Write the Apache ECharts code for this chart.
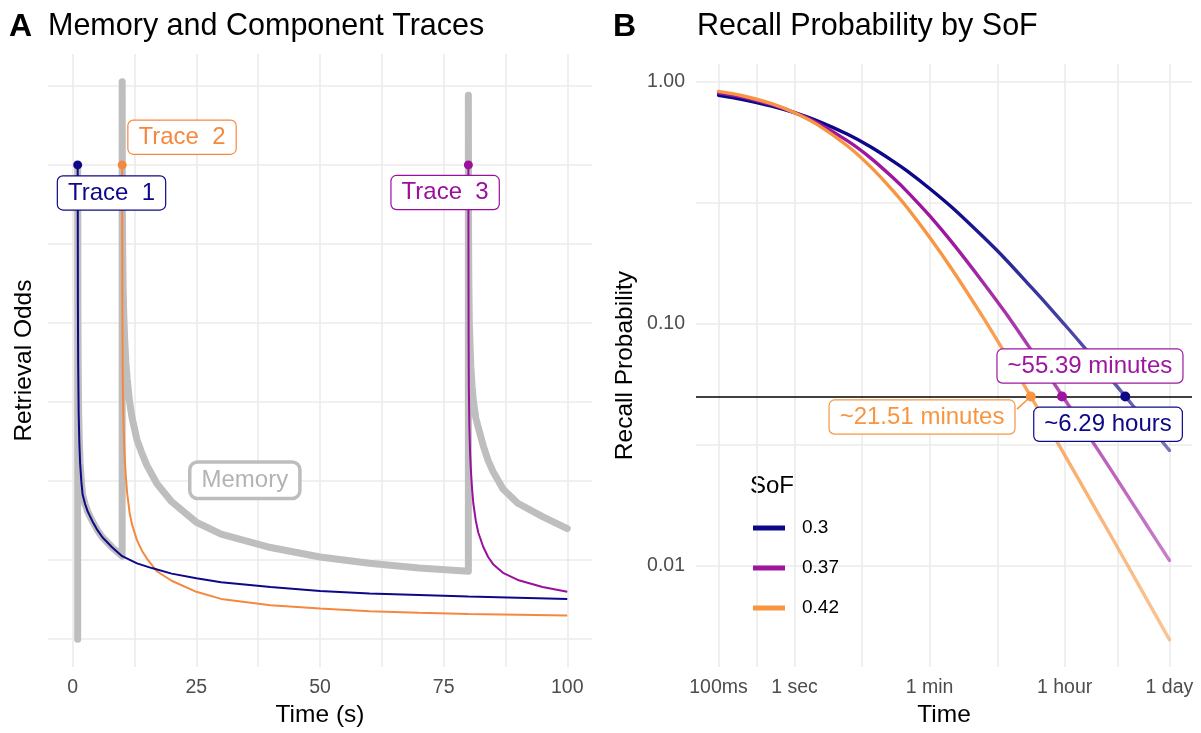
<!DOCTYPE html>
<html>
<head>
<meta charset="utf-8">
<title>Memory and Component Traces / Recall Probability by SoF</title>
<script src="https://cdn.jsdelivr.net/npm/echarts@6.0.0/dist/echarts.min.js"></script>
<style>
  html, body { margin: 0; padding: 0; background: #fff; }
  #chart { width: 1201px; height: 733px; }
</style>
</head>
<body>
<div id="chart"></div>
<script>
// ---- panel A: retrieval odds of memory and its traces (time in s) ----
const trace1Time = [1, 1.02, 1.05, 1.1, 1.2, 1.35, 1.5, 1.75, 2, 2.5, 3, 4, 5, 6, 8, 10, 13, 16, 20, 25, 30, 40, 50, 60, 70, 80, 90, 100]
const trace1Odds = [6, 5.47, 4.2, 3.49, 2.86, 2.46, 2.22, 1.99, 1.83, 1.71, 1.62, 1.49, 1.38, 1.29, 1.16, 1.05, 0.96, 0.9, 0.83, 0.77, 0.72, 0.66, 0.61, 0.58, 0.56, 0.54, 0.525, 0.51]

const trace2Time = [10, 10.02, 10.05, 10.1, 10.2, 10.35, 10.5, 10.75, 11, 11.5, 12, 13, 14, 15, 17, 20, 25, 30, 40, 50, 60, 70, 80, 90, 100]
const trace2Odds = [6, 5.0, 4.0, 3.4, 2.9, 2.55, 2.3, 2.05, 1.85, 1.6, 1.45, 1.25, 1.12, 1.02, 0.86, 0.74, 0.6, 0.51, 0.43, 0.39, 0.355, 0.335, 0.32, 0.31, 0.3]

const trace3Time = [80, 80.02, 80.05, 80.1, 80.2, 80.35, 80.5, 80.75, 81, 81.5, 82, 83, 84, 85, 87, 90, 95, 100]
const trace3Odds = [6, 4.9, 3.8, 3.2, 2.7, 2.35, 2.15, 1.9, 1.72, 1.5, 1.35, 1.17, 1.04, 0.95, 0.84, 0.75, 0.66, 0.6]

const memoryTime = [1, 1, 1.02, 1.05, 1.1, 1.2, 1.35, 1.5, 1.75, 2, 2.5, 3, 4, 5, 6, 8, 10,
  10, 10.02, 10.05, 10.1, 10.2, 10.35, 10.5, 10.75, 11, 11.5, 12, 13, 14, 15, 17, 20, 25, 30, 40, 50, 60, 70, 80,
  80, 80.02, 80.05, 80.1, 80.2, 80.35, 80.5, 80.75, 81, 81.5, 82, 83, 84, 85, 87, 90, 95, 100]
const memoryOdds = [0, 6, 5.47, 4.2, 3.49, 2.86, 2.46, 2.22, 1.99, 1.83, 1.71, 1.62, 1.49, 1.38, 1.29, 1.16, 1.05,
  7.05, 6.2, 5.4, 4.9, 4.4, 4.05, 3.8, 3.5, 3.3, 3.0, 2.8, 2.52, 2.35, 2.2, 1.97, 1.74, 1.48, 1.33, 1.16, 1.04, 0.96, 0.9, 0.86,
  6.88, 5.9, 5.0, 4.5, 4.0, 3.7, 3.45, 3.2, 3.02, 2.8, 2.68, 2.45, 2.26, 2.12, 1.9, 1.72, 1.55, 1.4]

const traceNames = ['Trace  1', 'Trace  2', 'Trace  3']
const traceOnsets = [1, 10, 80]
const traceCap = 6

// ---- panel B: recall probability by speed of forgetting ----
const sofLevels = ['0.3', '0.37', '0.42']
const recallTime = [0.1, 0.2, 0.5, 1, 2, 5, 10, 20, 30, 60, 120, 300, 600, 1200, 1800, 3600, 7200, 14400, 28800, 43200, 86400]
const recallSoF030 = [0.882, 0.849, 0.796, 0.747, 0.691, 0.608, 0.54, 0.47, 0.43, 0.363, 0.302, 0.23, 0.185, 0.146, 0.127, 0.0993, 0.0771, 0.0594, 0.0457, 0.0391, 0.0299]
const recallSoF037 = [0.902, 0.868, 0.806, 0.747, 0.677, 0.571, 0.486, 0.401, 0.354, 0.28, 0.216, 0.149, 0.111, 0.081, 0.0673, 0.0487, 0.035, 0.0251, 0.0179, 0.0147, 0.0105]
const recallSoF042 = [0.915, 0.88, 0.814, 0.747, 0.667, 0.544, 0.447, 0.354, 0.304, 0.228, 0.167, 0.107, 0.0749, 0.052, 0.0418, 0.0287, 0.0196, 0.0134, 0.00911, 0.00726, 0.00493]

const threshold = 0.05
const crossSeconds = [22644, 3323.4, 1290.6]
const crossLabels = ['~6.29 hours', '~55.39 minutes', '~21.51 minutes']

const timeTicks = [0.1, 1, 60, 3600, 86400]
const timeTickLabels = ['100ms', '1 sec', '1 min', '1 hour', '1 day']
const probTicks = [1, 0.1, 0.01]

// ---- styling ----
const FONT = '"Liberation Sans", Arial, Helvetica, sans-serif'
const GRID_COLOR = '#ebebeb'
const TEXT_GREY = '#4d4d4d'
const colorsA = ['#0d0887', '#f5883f', '#9a0f9c']
const colorsB = ['#0d0887', '#9c179e', '#f89540']
const fadedB = ['rgba(13,8,135,0.55)', 'rgba(156,23,158,0.55)', 'rgba(248,149,64,0.55)']

const pairs = (xs, ys) => xs.map((x, i) => [x, ys[i]])
const logPairs = (xs, ys) => xs.map((x, i) => [Math.log10(x), Math.log10(ys[i])])
const mids = (arr) => arr.slice(1).map((v, i) => (v + arr[i]) / 2)

const gridLines = (xs, ys) => ({
  silent: true,
  z: 1,
  symbol: ['none', 'none'],
  label: { show: false },
  lineStyle: { color: GRID_COLOR, width: 1.6, type: 'solid' },
  data: [...xs.map((v) => ({ xAxis: v })), ...ys.map((v) => ({ yAxis: v }))],
})

const logTimeTicks = timeTicks.map((t) => Math.log10(t))
const logProbTicks = probTicks.map((p) => Math.log10(p))

const gridAX = [0, 12.5, 25, 37.5, 50, 62.5, 75, 87.5, 100]
const gridAY = [0, 1, 2, 3, 4, 5, 6, 7]
const gridBX = [...logTimeTicks, ...mids(logTimeTicks)]
const gridBY = [...logProbTicks, ...mids(logProbTicks)]

const chart = echarts.init(document.getElementById('chart'))

const fadeGradient = (i) =>
  new echarts.graphic.LinearGradient(0, 0, 1, 0, [
    { offset: 0, color: colorsB[i] },
    { offset: 0.5, color: colorsB[i] },
    { offset: 1, color: fadedB[i] },
  ])

const recallSeries = [recallSoF030, recallSoF037, recallSoF042].map((vals, i) => ({
  name: sofLevels[i],
  type: 'line',
  xAxisIndex: 1,
  yAxisIndex: 1,
  data: logPairs(recallTime, vals),
  smooth: 0.3,
  showSymbol: false,
  z: 3,
  itemStyle: { color: colorsB[i] },
  lineStyle: { width: 3.4, color: fadeGradient(i), cap: 'round' },
}))

const axisName = { fontSize: 24.5, color: '#000', fontFamily: FONT }
const tickLabel = { color: TEXT_GREY, fontSize: 19.5, fontFamily: FONT, margin: 11 }
const hidden = { show: false }

const labelBox = {
  show: true,
  position: 'inside',
  fontSize: 24,
  fontFamily: FONT,
  backgroundColor: '#fff',
  borderWidth: 1.2,
  borderRadius: 5,
  padding: [5, 10, 4, 10],
}
// invisible anchor for text boxes; opacity 1 so the label is not faded
const anchorStyle = { color: 'rgba(0,0,0,0)', opacity: 1 }

const option = {
  animation: false,
  backgroundColor: '#fff',
  textStyle: { fontFamily: FONT },
  graphic: [
    { type: 'text', x: 9, y: 27, style: { text: 'A', font: 'bold 32px ' + FONT, fill: '#000', verticalAlign: 'middle' } },
    { type: 'text', x: 48, y: 27, style: { text: 'Memory and Component Traces', font: '30.5px ' + FONT, fill: '#000', verticalAlign: 'middle' } },
    { type: 'text', x: 613, y: 27, style: { text: 'B', font: 'bold 32px ' + FONT, fill: '#000', verticalAlign: 'middle' } },
    { type: 'text', x: 697, y: 27, style: { text: 'Recall Probability by SoF', font: '30.5px ' + FONT, fill: '#000', verticalAlign: 'middle' } },
    { type: 'text', x: 750, y: 486, style: { text: 'SoF', font: '24px ' + FONT, fill: '#000', verticalAlign: 'middle' } },
  ],
  legend: {
    data: sofLevels.map((s, i) => ({ name: s, itemStyle: { color: colorsB[i] } })),
    orient: 'vertical',
    left: 753,
    top: 518,
    padding: 0,
    icon: 'rect',
    itemWidth: 32,
    itemHeight: 5,
    itemGap: 20,
    selectedMode: false,
    textStyle: { fontSize: 19, lineHeight: 20, color: '#000', fontFamily: FONT, padding: [0, 0, 0, 12] },
  },
  grid: [
    { left: 48, top: 54, width: 544, height: 620 },
    { left: 696, top: 64, width: 496, height: 610 },
  ],
  xAxis: [
    {
      gridIndex: 0,
      type: 'value',
      min: -5,
      max: 105,
      axisLine: hidden,
      axisTick: hidden,
      splitLine: hidden,
      axisLabel: { ...tickLabel, customValues: [0, 25, 50, 75, 100] },
      name: 'Time (s)',
      nameLocation: 'middle',
      nameGap: 34,
      nameTextStyle: axisName,
    },
    {
      gridIndex: 1,
      type: 'value',
      min: -1.2968,
      max: 5.2333,
      axisLine: hidden,
      axisTick: hidden,
      splitLine: hidden,
      axisLabel: {
        ...tickLabel,
        customValues: logTimeTicks,
        formatter: (v) => {
          let best = 0
          logTimeTicks.forEach((t, i) => {
            if (Math.abs(t - v) < Math.abs(logTimeTicks[best] - v)) best = i
          })
          return timeTickLabels[best]
        },
      },
      name: 'Time',
      nameLocation: 'middle',
      nameGap: 34,
      nameTextStyle: axisName,
    },
  ],
  yAxis: [
    {
      gridIndex: 0,
      type: 'value',
      min: -0.3525,
      max: 7.4025,
      axisLine: hidden,
      axisTick: hidden,
      splitLine: hidden,
      axisLabel: hidden,
      name: 'Retrieval Odds',
      nameLocation: 'middle',
      nameRotate: 90,
      nameGap: 11,
      nameTextStyle: axisName,
    },
    {
      gridIndex: 1,
      type: 'value',
      min: -2.4205,
      max: 0.0748,
      axisLine: hidden,
      axisTick: hidden,
      splitLine: hidden,
      axisLabel: {
        ...tickLabel,
        customValues: logProbTicks,
        formatter: (v) => Math.pow(10, v).toFixed(2),
      },
      name: 'Recall Probability',
      nameLocation: 'middle',
      nameRotate: 90,
      nameGap: 58,
      nameTextStyle: axisName,
    },
  ],
  series: [
    // panel A
    {
      type: 'line',
      xAxisIndex: 0,
      yAxisIndex: 0,
      data: [[0, 0]],
      showSymbol: false,
      lineStyle: { opacity: 0 },
      silent: true,
      markLine: gridLines(gridAX, gridAY),
    },
    {
      name: 'Memory',
      type: 'line',
      xAxisIndex: 0,
      yAxisIndex: 0,
      data: pairs(memoryTime, memoryOdds),
      showSymbol: false,
      z: 2,
      lineStyle: { color: '#bebebe', width: 7, cap: 'round', join: 'round' },
    },
    ...[
      [trace2Time, trace2Odds, 1],
      [trace1Time, trace1Odds, 0],
      [trace3Time, trace3Odds, 2],
    ].map(([t, v, i]) => ({
      name: traceNames[i],
      type: 'line',
      xAxisIndex: 0,
      yAxisIndex: 0,
      data: pairs(t, v),
      showSymbol: false,
      z: 3,
      lineStyle: { color: colorsA[i], width: 2 },
    })),
    {
      type: 'scatter',
      xAxisIndex: 0,
      yAxisIndex: 0,
      z: 4,
      symbolSize: 9,
      data: traceOnsets.map((t, i) => ({ value: [t, traceCap], itemStyle: { color: colorsA[i], opacity: 1 } })),
    },
    {
      type: 'scatter',
      xAxisIndex: 0,
      yAxisIndex: 0,
      z: 5,
      symbolSize: 1,
      itemStyle: anchorStyle,
      data: [
        { value: [7.84, 5.645], label: { ...labelBox, formatter: traceNames[0], color: colorsA[0], borderColor: colorsA[0] } },
        { value: [22.1, 6.35], label: { ...labelBox, formatter: traceNames[1], color: colorsA[1], borderColor: colorsA[1] } },
        { value: [75.3, 5.65], label: { ...labelBox, formatter: traceNames[2], color: colorsA[2], borderColor: colorsA[2] } },
        {
          value: [34.8, 2.01],
          label: { ...labelBox, formatter: 'Memory', color: '#b3b3b3', borderColor: '#bdbdbd', borderWidth: 3.5, borderRadius: 6 },
        },
      ],
    },
    // panel B
    {
      type: 'line',
      xAxisIndex: 1,
      yAxisIndex: 1,
      data: [[0, 0]],
      showSymbol: false,
      lineStyle: { opacity: 0 },
      silent: true,
      markLine: gridLines(gridBX, gridBY),
    },
    ...recallSeries,
    {
      type: 'line',
      xAxisIndex: 1,
      yAxisIndex: 1,
      data: [[0, 0]],
      showSymbol: false,
      lineStyle: { opacity: 0 },
      silent: true,
      markLine: {
        silent: true,
        z: 4,
        symbol: ['none', 'none'],
        label: { show: false },
        lineStyle: { color: '#000', width: 1.5, type: 'solid' },
        data: [{ yAxis: Math.log10(threshold) }],
      },
    },
    {
      type: 'line',
      xAxisIndex: 1,
      yAxisIndex: 1,
      z: 4,
      showSymbol: false,
      lineStyle: { color: colorsB[2], width: 1.5 },
      data: [[Math.log10(crossSeconds[2]), Math.log10(threshold)], [2.929, -1.353]],
    },
    {
      type: 'scatter',
      xAxisIndex: 1,
      yAxisIndex: 1,
      z: 5,
      symbolSize: 10,
      data: crossSeconds.map((s, i) => ({
        value: [Math.log10(s), Math.log10(threshold)],
        itemStyle: { color: colorsB[i], opacity: 1 },
      })),
    },
    {
      type: 'scatter',
      xAxisIndex: 1,
      yAxisIndex: 1,
      z: 6,
      symbolSize: 1,
      itemStyle: anchorStyle,
      data: [
        { value: [4.128, -1.416], label: { ...labelBox, formatter: crossLabels[0], color: colorsB[0], borderColor: colorsB[0] } },
        { value: [3.89, -1.175], label: { ...labelBox, formatter: crossLabels[1], color: colorsB[1], borderColor: colorsB[1] } },
        { value: [1.679, -1.386], label: { ...labelBox, formatter: crossLabels[2], color: colorsB[2], borderColor: colorsB[2] } },
      ],
    },
  ],
}

chart.setOption(option)
window.addEventListener('resize', () => chart.resize())
</script>
</body>
</html>
